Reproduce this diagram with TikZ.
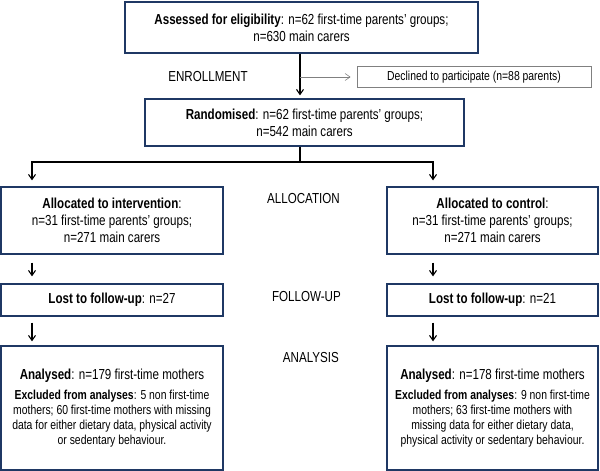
\documentclass[tikz,border=0pt]{standalone}
\usepackage{fontspec}
\setmainfont[FakeStretch=0.8]{Liberation Sans}
\usetikzlibrary{arrows.meta}
\definecolor{boxblue}{RGB}{31,56,100}
\tikzset{
    box/.style={draw=boxblue, line width=1.3pt, align=center, inner sep=2pt, font=\fontsize{14.5}{17}\selectfont},
    arr/.style={-{Straight Barb[length=5pt,width=7pt]}, line width=1.1pt},
    stage/.style={anchor=east, inner sep=0pt, font=\fontsize{14.5}{17}\selectfont},
}
\begin{document}
\begin{tikzpicture}[x=1pt,y=-1pt]
    \useasboundingbox (0,0) rectangle (600,471);
    \node[box, minimum width=353pt, minimum height=51pt] (elig) at (301.5,27.5) {\textbf{Assessed for eligibility}: n=62 first-time parents' groups;\\ n=630 main carers};
    \node[box, draw=gray, line width=0.8pt, minimum width=234pt, minimum height=21pt, font=\fontsize{13}{15}\selectfont] (decl) at (474,77) {Declined to participate (n=88 parents)};
    \node[box, minimum width=319pt, minimum height=47pt] (rand) at (304.5,122.5) {\textbf{Randomised}: n=62 first-time parents' groups;\\ n=542 main carers};
    \node[box, minimum width=222pt, minimum height=67pt] (allocI) at (112,220.5) {\textbf{Allocated to intervention}:\\ n=31 first-time parents' groups;\\ n=271 main carers};
    \node[box, minimum width=211pt, minimum height=67pt] (allocC) at (492.5,220.5) {\textbf{Allocated to control}:\\ n=31 first-time parents' groups;\\ n=271 main carers};
    \node[box, minimum width=222pt, minimum height=32pt] (lostI) at (112,300) {\textbf{Lost to follow-up}: n=27};
    \node[box, minimum width=211pt, minimum height=32pt] (lostC) at (492.5,300) {\textbf{Lost to follow-up}: n=21};
    \node[box, minimum width=222pt, minimum height=124pt, font=\fontsize{13}{15}\selectfont] (anaI) at (112,408) {{\fontsize{14.5}{17}\selectfont\textbf{Analysed}: n=179 first-time mothers}\\[5pt]
        \textbf{Excluded from analyses}: 5 non first-time\\ mothers; 60 first-time  mothers with missing\\ data for either dietary data, physical activity\\ or sedentary behaviour.};
    \node[box, minimum width=211pt, minimum height=124pt, font=\fontsize{13}{15}\selectfont] (anaC) at (492.5,408) {{\fontsize{14.5}{17}\selectfont\textbf{Analysed}: n=178 first-time mothers}\\[5pt]
        \textbf{Excluded from analyses}: 9 non first-time\\ mothers; 63 first-time  mothers with\\ missing data for either dietary data,\\ physical activity  or sedentary behaviour.};
    % stage labels
    \node[stage, anchor=center] (enrol) at (208,77) {ENROLLMENT};
    \node[stage] (alloc) at (340,199) {ALLOCATION};
    \node[stage] (follow) at (341,297) {FOLLOW-UP};
    \node[stage] (analysis) at (339,358) {ANALYSIS};
    % connectors
    \coordinate (mid) at (300,0);
    \coordinate (jl) at (32,162);
    \coordinate (jr) at (433,162);
    \draw[arr] (elig.south -| mid) -- ([yshift=3pt]rand.north -| mid);
    \draw[arr, gray, line width=0.6pt] (mid |- decl.west) -- ([xshift=-6pt]decl.west);
    \draw[line width=1.1pt] (rand.south -| mid) -- (mid |- jl);
    \draw[arr] (mid |- jl) -- (jl) -- ([yshift=6pt]allocI.north -| jl);
    \draw[arr] (mid |- jr) -- (jr) -- ([yshift=6pt]allocC.north -| jr);
    \draw[arr] ([yshift=-8pt]allocI.south -| jl) -- ([yshift=7pt]lostI.north -| jl);
    \draw[arr] ([yshift=-8pt]allocC.south -| jr) -- ([yshift=7pt]lostC.north -| jr);
    \draw[arr] ([yshift=-6pt]lostI.south -| jl) -- ([yshift=4pt]anaI.north -| jl);
    \draw[arr] ([yshift=-6pt]lostC.south -| jr) -- ([yshift=4pt]anaC.north -| jr);
\end{tikzpicture}
\end{document}
